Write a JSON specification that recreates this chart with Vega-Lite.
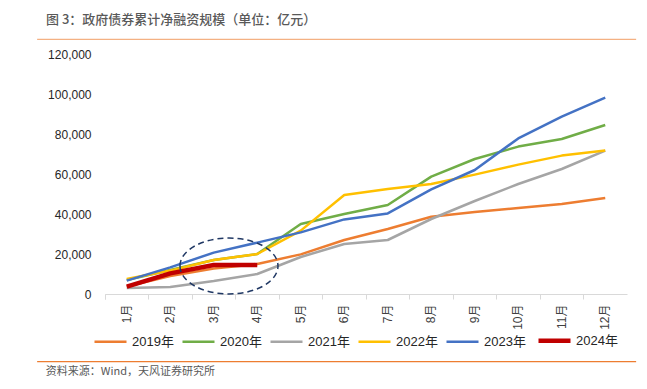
{
  "$schema": "https://vega.github.io/schema/vega-lite/v6.json",
  "width": 522,
  "height": 240,
  "autosize": {"type": "none"},
  "padding": {"left": 105, "top": 54, "right": 20, "bottom": 95},
  "background": "white",
  "title": {
    "text": "图 3：政府债券累计净融资规模（单位：亿元）",
    "anchor": "start",
    "frame": "group",
    "dx": -59,
    "offset": 12,
    "font": "Noto Sans CJK SC",
    "fontSize": 13,
    "fontWeight": 500,
    "color": "#595959"
  },
  "datasets": {
    "series": [
      {"month": "1月", "year": "2019年", "value": 3700},
      {"month": "2月", "year": "2019年", "value": 9000},
      {"month": "3月", "year": "2019年", "value": 12800},
      {"month": "4月", "year": "2019年", "value": 15000},
      {"month": "5月", "year": "2019年", "value": 19800},
      {"month": "6月", "year": "2019年", "value": 27000},
      {"month": "7月", "year": "2019年", "value": 32500},
      {"month": "8月", "year": "2019年", "value": 38600},
      {"month": "9月", "year": "2019年", "value": 41000},
      {"month": "10月", "year": "2019年", "value": 43000},
      {"month": "11月", "year": "2019年", "value": 45000},
      {"month": "12月", "year": "2019年", "value": 48000},
      {"month": "1月", "year": "2020年", "value": 7000},
      {"month": "2月", "year": "2020年", "value": 12000},
      {"month": "3月", "year": "2020年", "value": 17000},
      {"month": "4月", "year": "2020年", "value": 20000},
      {"month": "5月", "year": "2020年", "value": 35000},
      {"month": "6月", "year": "2020年", "value": 40000},
      {"month": "7月", "year": "2020年", "value": 44500},
      {"month": "8月", "year": "2020年", "value": 58700},
      {"month": "9月", "year": "2020年", "value": 67500},
      {"month": "10月", "year": "2020年", "value": 73700},
      {"month": "11月", "year": "2020年", "value": 77500},
      {"month": "12月", "year": "2020年", "value": 84500},
      {"month": "1月", "year": "2021年", "value": 3000},
      {"month": "2月", "year": "2021年", "value": 3500},
      {"month": "3月", "year": "2021年", "value": 6500},
      {"month": "4月", "year": "2021年", "value": 10000},
      {"month": "5月", "year": "2021年", "value": 18500},
      {"month": "6月", "year": "2021年", "value": 25000},
      {"month": "7月", "year": "2021年", "value": 27000},
      {"month": "8月", "year": "2021年", "value": 37500},
      {"month": "9月", "year": "2021年", "value": 46500},
      {"month": "10月", "year": "2021年", "value": 55000},
      {"month": "11月", "year": "2021年", "value": 62500},
      {"month": "12月", "year": "2021年", "value": 71700},
      {"month": "1月", "year": "2022年", "value": 7500},
      {"month": "2月", "year": "2022年", "value": 11700},
      {"month": "3月", "year": "2022年", "value": 17000},
      {"month": "4月", "year": "2022年", "value": 20000},
      {"month": "5月", "year": "2022年", "value": 31700},
      {"month": "6月", "year": "2022年", "value": 49500},
      {"month": "7月", "year": "2022年", "value": 52500},
      {"month": "8月", "year": "2022年", "value": 55000},
      {"month": "9月", "year": "2022年", "value": 59700},
      {"month": "10月", "year": "2022年", "value": 64700},
      {"month": "11月", "year": "2022年", "value": 69200},
      {"month": "12月", "year": "2022年", "value": 71700},
      {"month": "1月", "year": "2023年", "value": 6700},
      {"month": "2月", "year": "2023年", "value": 13300},
      {"month": "3月", "year": "2023年", "value": 20700},
      {"month": "4月", "year": "2023年", "value": 25700},
      {"month": "5月", "year": "2023年", "value": 30800},
      {"month": "6月", "year": "2023年", "value": 37300},
      {"month": "7月", "year": "2023年", "value": 40300},
      {"month": "8月", "year": "2023年", "value": 52300},
      {"month": "9月", "year": "2023年", "value": 62000},
      {"month": "10月", "year": "2023年", "value": 77800},
      {"month": "11月", "year": "2023年", "value": 88700},
      {"month": "12月", "year": "2023年", "value": 98200},
      {"month": "1月", "year": "2024年", "value": 3700},
      {"month": "2月", "year": "2024年", "value": 10300},
      {"month": "3月", "year": "2024年", "value": 14500},
      {"month": "4月", "year": "2024年", "value": 14500}
    ]
  },
  "layer": [
    {
      "layer": [
        {
          "data": {"name": "series"},
          "mark": {"type": "line", "strokeCap": "butt", "strokeJoin": "round"},
          "encoding": {
            "x": {
              "field": "month",
              "type": "ordinal",
              "scale": {"type": "band", "paddingInner": 0, "paddingOuter": 0, "domain": ["1月","2月","3月","4月","5月","6月","7月","8月","9月","10月","11月","12月"]},
              "axis": {
                "title": null,
                "bandPosition": 0,
                "tickExtra": true,
                "labelAngle": -90,
                "labelFont": "Liberation Sans, Noto Sans CJK SC",
                "labelFontSize": 12,
                "labelColor": "#404040",
                "labelPadding": 5,
                "tickSize": 5,
                "tickColor": "#d9d9d9",
                "domainColor": "#d9d9d9",
                "domainWidth": 1,
                "grid": false
              }
            },
            "y": {
              "field": "value",
              "type": "quantitative",
              "scale": {"domain": [0, 120000], "nice": false},
              "axis": {"title": null, "values": [0, 20000, 40000, 60000, 80000, 100000, 120000], "format": ",d"}
            },
            "color": {
              "field": "year",
              "type": "nominal",
              "scale": {
                "domain": ["2019年","2020年","2021年","2022年","2023年","2024年"],
                "range": ["#ED7D31","#70AD47","#A5A5A5","#FFC000","#4472C4","#C00000"]
              },
              "legend": {
                "title": null,
                "orient": "none",
                "direction": "horizontal",
                "columns": 6,
                "legendX": -1,
                "legendY": 280,
                "padding": 0,
                "symbolType": "stroke",
                "symbolSize": 1024,
                "symbolStrokeWidth": 2.5,
                "labelOffset": 15,
                "columnPadding": 3,
                "labelFont": "Liberation Sans, Noto Sans CJK SC",
                "labelFontSize": 13,
                "labelColor": "#262626",
                "encode": {
                  "symbols": {"update": {"strokeWidth": {"signal": "datum.value === '2024年' ? 4.5 : 2.5"}}}
                }
              }
            },
            "strokeWidth": {
              "condition": {"test": "datum.year === '2024年'", "value": 4.5},
              "value": 2.5
            }
          }
        },
        {
          "data": {"values": [{}]},
          "mark": {
            "type": "point",
            "shape": "M -1 0 A 1 0.571 0 1 0 1 0 A 1 0.571 0 1 0 -1 0 Z",
            "size": 9604,
            "filled": false,
            "stroke": "#203864",
            "strokeWidth": 1.5,
            "strokeDash": [6, 4],
            "opacity": 1
          },
          "encoding": {
            "x": {"datum": "3月", "type": "ordinal", "bandPosition": 0.85, "scale": {"domain": ["1月","2月","3月","4月","5月","6月","7月","8月","9月","10月","11月","12月"]}},
            "y": {"datum": 14000, "type": "quantitative", "scale": {"domain": [0, 120000], "nice": false}, "axis": {"title": null, "values": [0, 20000, 40000, 60000, 80000, 100000, 120000], "format": ",d"}}
          }
        }
      ]
    },
    {
      "data": {"values": [{}]},
      "layer": [
        {
          "mark": {"type": "rule", "color": "#F4B183", "strokeWidth": 1.2, "clip": false},
          "encoding": {
            "x": {"datum": -1.06, "type": "quantitative", "scale": {"domain": [0.5, 12.5], "nice": false, "zero": false}, "axis": null},
            "x2": {"datum": 12.71},
            "y": {"datum": 127350, "type": "quantitative", "scale": {"domain": [0, 120000], "nice": false}, "axis": {"title": null, "values": [0, 20000, 40000, 60000, 80000, 100000, 120000], "format": ",d"}}
          }
        },
        {
          "mark": {"type": "rule", "color": "#ED7D31", "strokeWidth": 1.2, "clip": false},
          "encoding": {
            "x": {"datum": -1.06, "type": "quantitative", "scale": {"domain": [0.5, 12.5], "nice": false, "zero": false}, "axis": null},
            "x2": {"datum": 12.71},
            "y": {"datum": -33850, "type": "quantitative", "scale": {"domain": [0, 120000], "nice": false}, "axis": {"title": null, "values": [0, 20000, 40000, 60000, 80000, 100000, 120000], "format": ",d"}}
          }
        },
        {
          "mark": {"type": "text", "align": "left", "baseline": "middle", "font": "Noto Sans CJK SC", "fontSize": 11, "color": "#595959", "clip": false},
          "encoding": {
            "x": {"datum": -0.86, "type": "quantitative", "scale": {"domain": [0.5, 12.5], "nice": false, "zero": false}, "axis": null},
            "y": {"datum": -39000, "type": "quantitative", "scale": {"domain": [0, 120000], "nice": false}, "axis": {"title": null, "values": [0, 20000, 40000, 60000, 80000, 100000, 120000], "format": ",d"}},
            "text": {"value": "资料来源：Wind，天风证券研究所"}
          }
        }
      ]
    }
  ],
  "resolve": {"scale": {"x": "independent"}, "axis": {"x": "independent"}},
  "config": {
    "view": {"stroke": null},
    "axisY": {
      "domain": false,
      "ticks": false,
      "grid": false,
      "labelOverlap": false,
      "labelPadding": 14,
      "labelFont": "Liberation Sans",
      "labelFontSize": 12,
      "labelColor": "#262626"
    }
  }
}
